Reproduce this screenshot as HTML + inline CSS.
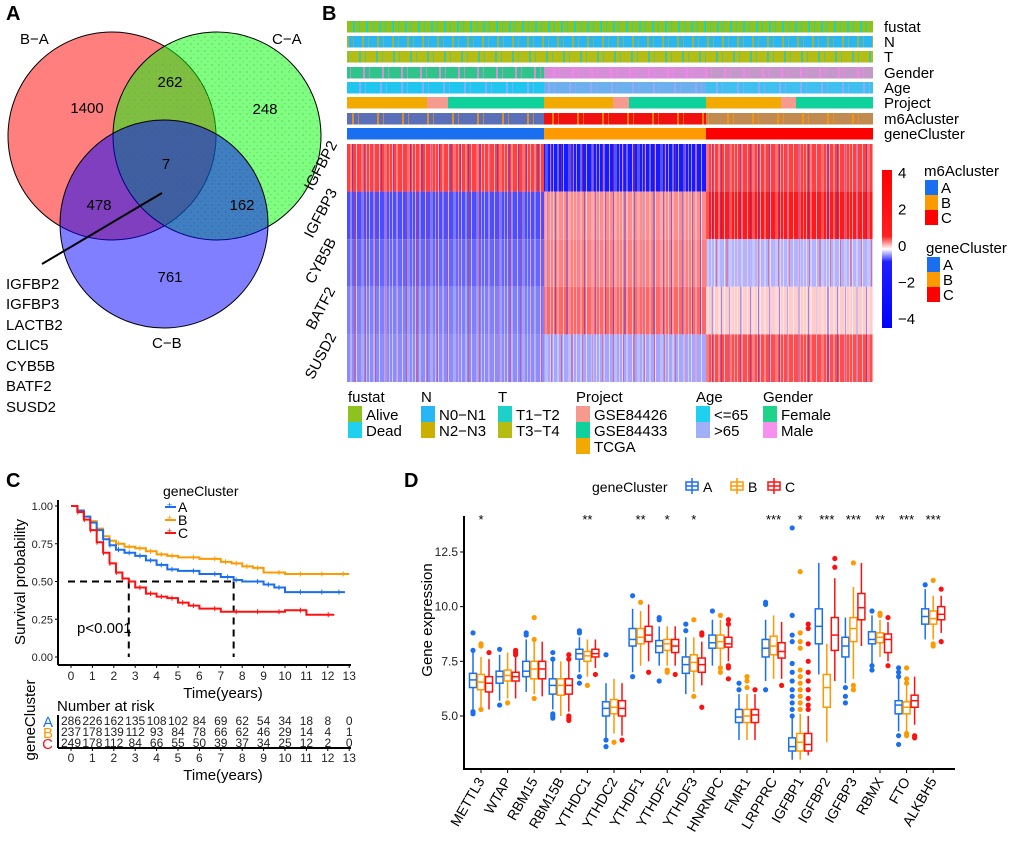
<!DOCTYPE html>
<html><head><meta charset="utf-8">
<style>
body{margin:0;background:#fff;}
svg{display:block;font-family:"Liberation Sans",Arial,sans-serif;}
</style></head>
<body>
<svg id="fig" width="1020" height="843" viewBox="0 0 1020 843" xmlns="http://www.w3.org/2000/svg">
<defs>
<pattern id="speck" width="7" height="7" patternUnits="userSpaceOnUse">
<rect width="7" height="7" fill="rgba(0,255,0,0.5)"/>
<circle cx="2" cy="2" r="0.6" fill="#6a9a6a"/><circle cx="5" cy="5.5" r="0.5" fill="#7aa87a"/>
</pattern>
<pattern id="stripesW" width="23" height="10" patternUnits="userSpaceOnUse">
<rect x="1" width="1" height="10" fill="rgba(255,255,255,0.55)"/><rect x="5" width="2" height="10" fill="rgba(255,255,255,0.35)"/>
<rect x="11" width="1" height="10" fill="rgba(255,255,255,0.6)"/><rect x="16" width="3" height="10" fill="rgba(255,255,255,0.25)"/>
<rect x="21" width="1" height="10" fill="rgba(255,255,255,0.45)"/>
</pattern>
<pattern id="stripesR" width="31" height="10" patternUnits="userSpaceOnUse">
<rect x="3" width="1" height="10" fill="rgba(255,40,40,0.5)"/><rect x="13" width="2" height="10" fill="rgba(255,40,40,0.35)"/>
<rect x="24" width="1" height="10" fill="rgba(255,40,40,0.45)"/>
</pattern>
<pattern id="stripesB" width="29" height="10" patternUnits="userSpaceOnUse">
<rect x="4" width="1" height="10" fill="rgba(40,40,255,0.5)"/><rect x="15" width="2" height="10" fill="rgba(40,40,255,0.35)"/>
<rect x="25" width="1" height="10" fill="rgba(40,40,255,0.45)"/>
</pattern>
</defs>
<g font-weight="bold" font-size="20">
<text x="6" y="20">A</text>
<text x="322" y="20">B</text>
<text x="6" y="487">C</text>
<text x="404" y="487">D</text>
</g>
<g id="venn" font-size="15">
<circle cx="112" cy="136" r="104" fill="rgba(255,0,0,0.5)" stroke="#000" stroke-width="1"/>
<circle cx="217" cy="136" r="104" fill="url(#speck)" stroke="#000" stroke-width="1"/>
<circle cx="164" cy="224" r="104" fill="rgba(0,0,255,0.5)" stroke="#000" stroke-width="1"/>
<text x="20" y="44">B−A</text>
<text x="272" y="44">C−A</text>
<text x="152" y="348">C−B</text>
<g text-anchor="middle">
<text x="87" y="113">1400</text>
<text x="170" y="87">262</text>
<text x="265" y="114">248</text>
<text x="166" y="169">7</text>
<text x="99" y="210">478</text>
<text x="242" y="210">162</text>
<text x="170" y="282">761</text>
</g>
<line x1="162" y1="193" x2="42" y2="264" stroke="#000" stroke-width="2"/>
<g font-size="15">
<text x="6" y="289">IGFBP2</text><text x="6" y="309">IGFBP3</text><text x="6" y="330">LACTB2</text>
<text x="6" y="350">CLIC5</text><text x="6" y="371">CYB5B</text><text x="6" y="391">BATF2</text><text x="6" y="412">SUSD2</text>
</g>
</g>
<g id="heat"></g>
<g id="surv"></g>
<g id="box"></g>
</svg>
<script>
const NS="http://www.w3.org/2000/svg";
function mk(parent,tag,attrs,txt){const e=document.createElementNS(NS,tag);for(const k in attrs)e.setAttribute(k,attrs[k]);if(txt!==undefined)e.textContent=txt;parent.appendChild(e);return e;}

/* ===== Panel B heatmap data ===== */
const heatGenes=["IGFBP2","IGFBP3","CYB5B","BATF2","SUSD2"];
const heatClusters=["A","B","C"];
const heatA=[3.0,-2.8,-2.4,-2.0,-1.8];
const heatB=[-3.6,1.8,2.0,2.4,-1.4];
const heatC=[3.0,3.6,-1.2,0.8,2.8];
const annRows=["fustat","N","T","Gender","Age","Project","m6Acluster","geneCluster"];

const hb=document.getElementById('heat');
const HX0=347,HX1=873,segX=[347,544,706,873];
function zcol(z){const t=Math.max(-1,Math.min(1,z/4));
 if(t>=0){const c=Math.round(255*(1-t));return `rgb(255,${c},${c})`;}
 const c=Math.round(255*(1+t));return `rgb(${c},${c},255)`;}
const heatVals=[heatA,heatB,heatC];
const rowTop=144,rowH=47.6;
for(let g=0;g<heatGenes.length;g++){
 for(let c=0;c<3;c++){
  const v=heatVals[c][g];
  const r=mk(hb,'rect',{x:segX[c],y:rowTop+g*rowH,width:segX[c+1]-segX[c],height:rowH,fill:zcol(v)});
  
  
  mk(hb,'rect',{x:segX[c],y:rowTop+g*rowH,width:segX[c+1]-segX[c],height:rowH,fill:v>=0?'url(#stripesB)':'url(#stripesR)'});
 }
 mk(hb,'rect',{x:HX0,y:rowTop+g*rowH,width:HX1-HX0,height:rowH,fill:'url(#stripesW)'});
 const lab=mk(hb,'text',{x:0,y:0,'font-size':15,'text-anchor':'middle',transform:`translate(325,${rowTop+g*rowH+rowH/2}) rotate(-62)`},heatGenes[g]);
 
 
}
const annY=[21,36,51,67,82,97,113,128],annH=11.5;
const annBase=[["#8dc21f","#8dc21f","#8dc21f"],["#29b6f6","#29b6f6","#29b6f6"],["#b5bd14","#b5bd14","#b5bd14"],["#2ec48a","#d48fd8","#c498c9"],["#21c6f0","#6cb0f0","#3fc0f0"],null,["#5a6fb8","#f01010","#c08a50"],["#1a6ff0","#ff9900","#ff0000"]];
const annStripe=["#00d4f0","#c8b400","#27c7c0","#ff80f0","#9fa8f5",null,"#ff9900",null];
for(let i=0;i<8;i++){
 if(i===5){
  const segs=[[347,427,"#f2a900"],[427,448,"#f59a8c"],[448,544,"#0fd19c"],[544,613,"#f2a900"],[613,629,"#f59a8c"],[629,706,"#0fd19c"],[706,781,"#f2a900"],[781,796,"#f59a8c"],[796,873,"#0fd19c"]];
  segs.forEach(s=>mk(hb,'rect',{x:s[0],y:annY[i],width:s[1]-s[0],height:annH,fill:s[2]}));
 } else {
  for(let c=0;c<3;c++) mk(hb,'rect',{x:segX[c],y:annY[i],width:segX[c+1]-segX[c],height:annH,fill:annBase[i][c]});
  if(annStripe[i]){
   const pid='ap'+i;const p=mk(hb.ownerSVGElement.querySelector('defs'),'pattern',{id:pid,width:13+i*2,height:10,patternUnits:'userSpaceOnUse'});
   mk(p,'rect',{x:2,width:2,height:10,fill:annStripe[i],opacity:0.8});
   mk(p,'rect',{x:8,width:1,height:10,fill:annStripe[i],opacity:0.6});
   mk(hb,'rect',{x:HX0,y:annY[i],width:HX1-HX0,height:annH,fill:`url(#${pid})`});
  }
 }
 const t=mk(hb,'text',{x:884,y:annY[i]+annH-0.5,'font-size':15},annRows[i]);
 
 
}
const cbDefs=hb.ownerSVGElement.querySelector('defs');
const lg=mk(cbDefs,'linearGradient',{id:'cbg',x1:0,y1:0,x2:0,y2:1});
mk(lg,'stop',{offset:'0','stop-color':'#ff0000'});mk(lg,'stop',{offset:'0.42','stop-color':'#ff2020'});
mk(lg,'stop',{offset:'0.5','stop-color':'#ffffff'});mk(lg,'stop',{offset:'0.58','stop-color':'#2020ff'});mk(lg,'stop',{offset:'1','stop-color':'#0000ff'});
const cb=mk(hb,'rect',{x:882,y:170,width:10,height:158,fill:'url(#cbg)'});


const cbTicks=["4","2","0","−2","−4"];
cbTicks.forEach((s,i)=>mk(hb,'text',{x:898,y:178+i*36.5,'font-size':15},s));
mk(hb,'text',{x:924,y:176,'font-size':15},'m6Acluster');
mk(hb,'text',{x:926,y:253,'font-size':15},'geneCluster');
const clCols=["#1a6ff0","#ff9900","#ff0000"];
for(let k=0;k<3;k++){
 mk(hb,'rect',{x:925,y:180+k*15,width:13,height:15,fill:clCols[k]});
 mk(hb,'text',{x:941,y:193+k*15,'font-size':15},heatClusters[k]);
 mk(hb,'rect',{x:927,y:257+k*15,width:13,height:15,fill:clCols[k]});
 mk(hb,'text',{x:943,y:270+k*15,'font-size':15},heatClusters[k]);
}
const botLeg=[[348,"fustat",[["Alive","#8dc21f"],["Dead","#1fd0ef"]]],[421,"N",[["N0−N1","#29b6f6"],["N2−N3","#ccb000"]]],[498,"T",[["T1−T2","#1fd0c8"],["T3−T4","#b5bd14"]]],[576,"Project",[["GSE84426","#f59a8c"],["GSE84433","#0fd19c"],["TCGA","#f2a900"]]],[696,"Age",[["<=65","#1fd0ef"],[">65","#a0b0f8"]]],[763,"Gender",[["Female","#1fd48a"],["Male","#f890f0"]]]];
botLeg.forEach(L=>{
 const gg=mk(hb,'g',{});
 
 
 mk(gg,'text',{x:L[0],y:402,'font-size':15},L[1]);
 L[2].forEach((it,j)=>{mk(gg,'rect',{x:L[0],y:406+j*16,width:14,height:16,fill:it[1]});
  mk(gg,'text',{x:L[0]+18,y:420+j*16,'font-size':15},it[0]);});
});

/* ===== Panel C survival data ===== */
const tA=[0,0.3,0.6,0.9,1.2,1.5,1.8,2.1,2.5,3,3.5,4,4.5,5,6,7,7.6,8,9,9.5,10,11,12,12.8];
const sA=[1,0.97,0.93,0.89,0.84,0.78,0.74,0.71,0.69,0.67,0.64,0.61,0.58,0.57,0.55,0.53,0.51,0.5,0.48,0.46,0.43,0.43,0.43,0.43];
const tB=[0,0.3,0.6,0.9,1.2,1.5,1.8,2.1,2.5,3,3.5,4,4.5,5,6,7,7.5,8,8.5,9,10,11,12,13];
const sB=[1,0.97,0.93,0.9,0.85,0.8,0.77,0.75,0.73,0.72,0.7,0.68,0.67,0.66,0.65,0.63,0.62,0.6,0.59,0.56,0.55,0.55,0.55,0.55];
const tC=[0,0.3,0.6,0.9,1.2,1.5,1.8,2.1,2.4,2.7,3,3.5,4,4.5,5,5.5,6,7,8,9,10,11,12.3];
const sC=[1,0.96,0.91,0.84,0.76,0.69,0.62,0.56,0.52,0.5,0.46,0.42,0.4,0.39,0.36,0.34,0.32,0.3,0.3,0.3,0.31,0.28,0.28];
const medians=[2.7,7.6];
const survTicks=[0,0.25,0.5,0.75,1];
const timeTicks=[0,1,2,3,4,5,6,7,8,9,10,11,12,13];
const riskA=[286,226,162,135,108,102,84,69,62,54,34,18,8,0];
const riskB=[237,178,139,112,93,84,78,66,62,46,29,14,4,1];
const riskC=[249,178,112,84,66,55,50,39,37,34,25,12,2,0];

const sv=document.getElementById('surv');
const sx=t=>71+t*21.4, sy=p=>657-p*151;
mk(sv,'line',{x1:58,y1:500,x2:58,y2:665,stroke:'#000','stroke-width':2});
mk(sv,'line',{x1:58,y1:665,x2:351,y2:665,stroke:'#000','stroke-width':2});
survTicks.forEach(p=>{mk(sv,'line',{x1:55,x2:58,y1:sy(p),y2:sy(p),stroke:'#000'});
 mk(sv,'text',{x:53,y:sy(p)+4,'font-size':11,'text-anchor':'end',fill:'#222'},p.toFixed(2));});
timeTicks.forEach(t=>{mk(sv,'line',{x1:sx(t),x2:sx(t),y1:665,y2:668,stroke:'#000'});
 mk(sv,'text',{x:sx(t),y:680,'font-size':12,'text-anchor':'middle',fill:'#222'},String(t));
 mk(sv,'line',{x1:sx(t),x2:sx(t),y1:748,y2:751,stroke:'#000'});
 mk(sv,'text',{x:sx(t),y:762,'font-size':12,'text-anchor':'middle',fill:'#222'},String(t));});
mk(sv,'text',{x:223,y:698,'font-size':15,'text-anchor':'middle'},'Time(years)');
mk(sv,'text',{x:223,y:780,'font-size':15,'text-anchor':'middle'},'Time(years)');
const yl=mk(sv,'text',{x:0,y:0,'font-size':15,'text-anchor':'middle',transform:'translate(25,582) rotate(-90)'},'Survival probability');


mk(sv,'line',{x1:sx(0)-3,y1:sy(0.5),x2:sx(medians[1]),y2:sy(0.5),stroke:'#000','stroke-width':2,'stroke-dasharray':'7,5'});
medians.forEach(m=>mk(sv,'line',{x1:sx(m),y1:sy(0.5),x2:sx(m),y2:sy(0),stroke:'#000','stroke-width':2,'stroke-dasharray':'7,5'}));
function stepPath(ts,ss){let d=`M${sx(ts[0])},${sy(ss[0])}`;for(let i=1;i<ts.length;i++){d+=`H${sx(ts[i])}V${sy(ss[i])}`;}return d;}
[[tB,sB,'#ff9900','B'],[tA,sA,'#1a6ff0','A'],[tC,sC,'#ff1010','C']].forEach(c=>{
 const p=mk(sv,'path',{d:stepPath(c[0],c[1]),fill:'none',stroke:c[2],'stroke-width':2});
 
 
 for(let i=2;i<c[0].length;i++){const x=sx(c[0][i])-6;mk(sv,'line',{x1:x,x2:x,y1:sy(c[1][i-1])-2.5,y2:sy(c[1][i-1])+2.5,stroke:c[2]});}
});
mk(sv,'text',{x:77,y:633,'font-size':15},'p<0.001');
mk(sv,'text',{x:163,y:496,'font-size':14},'geneCluster');
[['A','#1a6ff0'],['B','#ff9900'],['C','#ff1010']].forEach((c,i)=>{
 mk(sv,'line',{x1:165,x2:176,y1:507+i*13,y2:507+i*13,stroke:c[1],'stroke-width':2});
 mk(sv,'text',{x:167,y:508+i*13,'font-size':9,fill:c[1]},'±');
 mk(sv,'text',{x:178,y:512+i*13,'font-size':14},c[0]);});
mk(sv,'text',{x:57,y:711,'font-size':15},'Number at risk');
mk(sv,'line',{x1:58,y1:715,x2:58,y2:748,stroke:'#000','stroke-width':2});
mk(sv,'line',{x1:58,y1:748,x2:351,y2:748,stroke:'#000','stroke-width':2});
[[riskA,'#1a6ff0','A'],[riskB,'#ff9900','B'],[riskC,'#ff1010','C']].forEach((r,i)=>{
 const y=725+i*11;
 mk(sv,'text',{x:53,y:y+2,'font-size':15,'text-anchor':'end',fill:r[1]},r[2]);
 r[0].forEach((v,j)=>mk(sv,'text',{x:sx(j),y:y,'font-size':12,'text-anchor':'middle',fill:'#222'},String(v)));
});
mk(sv,'text',{x:0,y:0,'font-size':15,'text-anchor':'middle',transform:'translate(35,720) rotate(-90)'},'geneCluster');

/* ===== Panel D boxplot data ===== */
const genes=["METTL3","WTAP","RBM15","RBM15B","YTHDC1","YTHDC2","YTHDF1","YTHDF2","YTHDF3","HNRNPC","FMR1","LRPPRC","IGFBP1","IGFBP2","IGFBP3","RBMX","FTO","ALKBH5"];
const sig=["*","","","","**","","**","*","*","","","***","*","***","***","**","***","***"];
const boxA=[[6.3,6.65,6.95,5.3,7.9],[6.5,6.8,7.05,5.7,7.8],[6.8,7.05,7.5,6.1,8.5],[6.0,6.4,6.7,5.3,7.5],[7.6,7.85,8.05,7.0,8.6],[5.0,5.35,5.65,4.0,6.5],[8.2,8.5,9.0,7.0,9.9],[7.9,8.2,8.45,7.3,9.1],[6.95,7.35,7.7,6.0,8.6],[8.1,8.35,8.7,7.3,9.4],[4.7,4.95,5.3,3.9,6.0],[7.7,8.1,8.5,6.6,9.4],[3.4,3.6,4.0,3.0,4.9],[8.3,9.1,9.9,6.9,12.0],[7.7,8.2,8.6,6.5,9.5],[8.3,8.5,8.85,7.4,9.6],[5.1,5.5,5.7,4.3,6.7],[9.2,9.55,9.9,8.5,10.8]];
const boxB=[[6.2,6.55,6.9,5.4,7.7],[6.6,6.85,7.1,5.8,7.9],[6.7,7.15,7.5,6.0,8.4],[5.95,6.4,6.7,5.0,7.5],[7.5,7.75,7.95,6.8,8.5],[5.1,5.4,5.75,4.2,6.7],[8.3,8.6,9.0,7.3,9.8],[8.0,8.3,8.5,7.3,9.1],[7.05,7.45,7.8,6.1,8.6],[8.1,8.4,8.7,7.3,9.4],[4.7,5.0,5.3,3.9,6.0],[7.8,8.2,8.65,6.7,9.6],[3.4,3.8,4.2,3.0,5.1],[5.4,6.3,6.9,3.8,8.3],[8.4,9.0,9.5,6.7,10.9],[8.35,8.6,8.8,7.7,9.4],[5.1,5.4,5.65,4.3,6.6],[9.2,9.45,9.8,8.5,10.5]];
const boxC=[[6.1,6.5,6.8,5.3,7.6],[6.6,6.8,7.0,5.8,7.7],[6.7,7.15,7.5,5.9,8.4],[6.0,6.4,6.7,5.2,7.5],[7.7,7.85,8.05,7.2,8.5],[5.0,5.35,5.7,4.1,6.5],[8.4,8.7,9.1,7.5,10.1],[7.9,8.2,8.5,7.3,9.1],[7.0,7.35,7.65,6.4,8.4],[8.15,8.3,8.6,7.5,9.1],[4.7,5.05,5.3,3.9,6.0],[7.65,7.95,8.35,6.7,9.3],[3.4,3.7,4.2,3.2,5.0],[8.0,8.7,9.5,6.6,11.3],[9.4,9.95,10.6,8.2,12.0],[7.9,8.5,8.75,7.5,9.3],[5.4,5.7,5.95,4.6,6.8],[9.4,9.65,10.0,8.8,10.5]];
const outA=[[8.8,8.0,5.2,5.1],[8.05,5.5],[8.8,8.7],[7.9,7.6,5.1,5.0,4.9],[8.9,8.8,6.8,6.5],[7.8,3.9,3.6],[10.5,6.8],[9.5,9.4,6.6],[9.2,8.9],[9.8],[6.5,6.2],[10.2,10.1,6.2],[13.6,9.6,8.7,8.4,7.4,7.0,6.6,6.2,5.9,5.6,5.3,5.0],[],[6.3,5.9,5.6],[9.8,7.3,7.1],[7.2,7.0,6.8,4.1,3.7],[11.0]];
const outB=[[8.3,8.2,5.3],[5.6],[9.5,8.5,5.8],[],[6.4],[3.8],[10.2],[7.1,7.0],[9.4,5.9],[9.6,7.2,7.0],[6.8,6.6,6.3],[],[11.6,8.8,8.4,8.1,7.1,6.8,6.5,6.2,5.9,5.6,5.3],[],[12.0,6.4,6.2],[9.7,9.6],[7.2,6.7,6.5,4.2,4.1],[11.2,8.3,8.2]];
const outC=[[7.9],[8.0,7.9,7.8],[],[7.8,7.6,5.0,4.9,4.8],[6.9],[3.9],[7.0],[6.9],[8.8,8.7,5.4],[9.4,9.2,7.3,7.2,6.7],[6.2],[6.4],[9.2,9.0,8.3,7.5,7.0,6.6,6.2,5.8,5.5,5.3],[12.2,11.8],[],[9.5,7.3],[4.1,4.0],[10.8,8.4]];
const yTicks=[5,7.5,10,12.5];

const bx=document.getElementById('box');
const gx=i=>481+i*26.6, gy=v=>716-(v-5)*21.87;
const cols=["#1a6ff0","#ff9900","#ff1010"], offs=[-8,0,8], bw=7;
mk(bx,'line',{x1:464,y1:516,x2:464,y2:770,stroke:'#000','stroke-width':2});
mk(bx,'line',{x1:463,y1:769,x2:955,y2:769,stroke:'#000','stroke-width':2});
yTicks.forEach(v=>{mk(bx,'line',{x1:460,x2:464,y1:gy(v),y2:gy(v),stroke:'#000'});
 mk(bx,'text',{x:458,y:gy(v)+4,'font-size':12,'text-anchor':'end',fill:'#222'},v.toFixed(1));});
const yt=mk(bx,'text',{x:0,y:0,'font-size':15,'text-anchor':'middle',transform:'translate(432,620) rotate(-90)'},'Gene expression');


const allBox=[boxA,boxB,boxC], allOut=[outA,outB,outC];
genes.forEach((g,i)=>{
 const x0=gx(i);
 mk(bx,'line',{x1:x0,x2:x0,y1:769,y2:773,stroke:'#000'});
 const lt=mk(bx,'text',{x:0,y:0,'font-size':14,'text-anchor':'end',transform:`translate(${x0+4},${781}) rotate(-60)`},g);
 
 
 if(sig[i]) mk(bx,'text',{x:x0,y:524,'font-size':13,'text-anchor':'middle'},sig[i]);
 for(let k=0;k<3;k++){
  const b=allBox[k][i], cx=x0+offs[k];
  allOut[k][i].forEach(v=>mk(bx,'circle',{cx:cx,cy:gy(v),r:2.6,fill:cols[k]}));
  mk(bx,'line',{x1:cx,x2:cx,y1:gy(b[4]),y2:gy(b[3]),stroke:cols[k],'stroke-width':1.5});
  const r=mk(bx,'rect',{x:cx-bw/2,y:gy(b[2]),width:bw,height:gy(b[0])-gy(b[2]),fill:'#fff',stroke:cols[k],'stroke-width':1.5});
  
  
  mk(bx,'line',{x1:cx-bw/2,x2:cx+bw/2,y1:gy(b[1]),y2:gy(b[1]),stroke:cols[k],'stroke-width':1.5});
 }
});
mk(bx,'text',{x:592,y:492,'font-size':14},'geneCluster');
[[686,'A'],[731,'B'],[768,'C']].forEach((l,k)=>{
 const gg=mk(bx,'g',{});
 
 
 mk(gg,'rect',{x:l[0],y:482,width:12,height:8,fill:'#fff',stroke:cols[k],'stroke-width':1.5});
 mk(gg,'line',{x1:l[0],x2:l[0]+12,y1:486,y2:486,stroke:cols[k],'stroke-width':1.5});
 mk(gg,'line',{x1:l[0]+6,x2:l[0]+6,y1:478,y2:494,stroke:cols[k],'stroke-width':1.5});
 mk(gg,'text',{x:l[0]+17,y:492,'font-size':14},l[1]);
});
</script>
</body></html>
